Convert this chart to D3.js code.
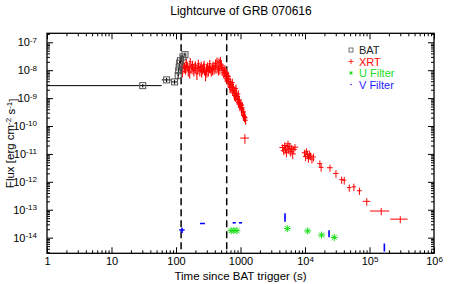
<!DOCTYPE html>
<html>
<head>
<meta charset="utf-8">
<script src="https://cdn.jsdelivr.net/npm/d3@7"></script>
<style>
body { margin: 0; background: #fff; }
svg { display: block; font-family: "Liberation Sans", Arial, sans-serif; }
</style>
</head>
<body>
<div id="chart"></div>
<script>
// rows are [time, timeErr, flux, fluxErr]
var batData = [
	[30.5, 29.5, 2.8e-9, 0.4e-9],
	[71.5, 11.5, 4.5e-9, 0.8e-9],
	[95, 12, 3.8e-9, 0.7e-9],
	[108, 2, 6.5e-9, 1.8e-9],
	[110, 1.5, 9.5e-9, 2.5e-9],
	[112, 1.5, 1.3e-8, 3e-9],
	[114, 1.5, 1.8e-8, 4e-9],
	[117, 2, 2.2e-8, 5e-9],
	[128, 4, 3.0e-8, 6e-9],
	[138, 5, 3.6e-8, 7e-9]
];

var xrtWT = [
	[124, 6, 1.5e-8, 0.55e-8], [126, 6, 0.9e-8, 0.35e-8], [128, 6, 1.2e-8, 0.45e-8],
	[132, 6, 1.7e-8, 0.6e-8], [136, 7, 1.3e-8, 0.5e-8], [140, 7, 1.1e-8, 0.4e-8],
	[143, 7, 1.25e-8, 0.45e-8], [145, 7, 1.9e-8, 0.7e-8], [150, 8, 1.4e-8, 0.5e-8],
	[155, 8, 1.0e-8, 0.4e-8], [160, 8, 1.3e-8, 0.5e-8], [163, 8, 0.85e-8, 0.35e-8],
	[166, 9, 2.0e-8, 0.75e-8], [172, 9, 1.2e-8, 0.45e-8], [178, 9, 1.4e-8, 0.5e-8],
	[181, 9, 1.6e-8, 0.6e-8], [184, 10, 1.1e-8, 0.4e-8], [190, 10, 0.95e-8, 0.35e-8],
	[197, 10, 1.3e-8, 0.5e-8], [200, 10, 1.5e-8, 0.55e-8], [204, 11, 1.2e-8, 0.45e-8],
	[211, 11, 0.75e-8, 0.3e-8], [218, 12, 1.15e-8, 0.45e-8], [222, 12, 1.7e-8, 0.65e-8],
	[226, 12, 1.35e-8, 0.5e-8], [234, 13, 1.0e-8, 0.4e-8], [242, 13, 1.25e-8, 0.45e-8],
	[246, 13, 1.45e-8, 0.55e-8], [250, 14, 0.9e-8, 0.35e-8], [259, 14, 1.1e-8, 0.4e-8],
	[268, 15, 1.3e-8, 0.5e-8], [272, 15, 1.6e-8, 0.6e-8], [277, 15, 1.05e-8, 0.4e-8],
	[287, 16, 0.7e-8, 0.3e-8], [297, 16, 1.2e-8, 0.45e-8], [302, 16, 0.9e-8, 0.35e-8],
	[307, 17, 1.4e-8, 0.5e-8], [318, 17, 1.0e-8, 0.4e-8], [329, 18, 1.25e-8, 0.45e-8],
	[334, 18, 1.7e-8, 0.6e-8], [340, 19, 1.15e-8, 0.4e-8], [352, 19, 0.95e-8, 0.35e-8],
	[364, 20, 1.3e-8, 0.5e-8], [370, 20, 1.05e-8, 0.4e-8], [377, 21, 1.5e-8, 0.55e-8],
	[390, 21, 1.1e-8, 0.4e-8], [404, 22, 1.35e-8, 0.5e-8], [410, 22, 1.75e-8, 0.65e-8],
	[418, 23, 1.2e-8, 0.45e-8], [432, 23, 2.1e-8, 0.75e-8], [447, 24, 1.3e-8, 0.5e-8],
	[455, 24, 1.05e-8, 0.4e-8], [463, 25, 1.9e-8, 0.7e-8], [479, 26, 1.15e-8, 0.45e-8],
	[488, 26, 2.2e-8, 0.75e-8], [496, 27, 1.7e-8, 0.6e-8],
	[505, 40, 1.5e-8, 0.55e-8], [520, 42, 1.0e-8, 0.38e-8], [535, 43, 1.25e-8, 0.45e-8],
	[550, 44, 8.0e-9, 3.0e-9], [565, 45, 9.5e-9, 3.5e-9], [572, 46, 1.1e-8, 0.4e-8],
	[580, 46, 6.0e-9, 2.2e-9], [596, 48, 7.5e-9, 2.8e-9], [604, 48, 8.5e-9, 3.0e-9],
	[612, 49, 5.0e-9, 1.8e-9], [628, 50, 6.2e-9, 2.2e-9], [645, 52, 3.9e-9, 1.4e-9],
	[654, 52, 6.0e-9, 2.2e-9], [662, 53, 4.8e-9, 1.7e-9], [680, 54, 3.0e-9, 1.1e-9],
	[690, 55, 2.4e-9, 0.9e-9], [698, 56, 3.8e-9, 1.4e-9], [717, 57, 2.4e-9, 0.9e-9],
	[736, 59, 3.0e-9, 1.1e-9], [746, 60, 3.6e-9, 1.3e-9], [756, 60, 1.9e-9, 0.7e-9],
	[776, 62, 2.4e-9, 0.9e-9], [797, 64, 1.5e-9, 0.55e-9], [808, 65, 1.25e-9, 0.45e-9],
	[818, 65, 1.9e-9, 0.7e-9], [840, 67, 1.15e-9, 0.42e-9], [850, 68, 2.2e-9, 0.8e-9],
	[863, 69, 1.5e-9, 0.55e-9], [886, 71, 9.0e-10, 3.3e-10], [910, 73, 1.15e-9, 0.42e-9],
	[922, 74, 1.4e-9, 0.5e-9], [934, 75, 7.0e-10, 2.6e-10], [959, 77, 8.5e-10, 3.1e-10],
	[972, 78, 6.2e-10, 2.2e-10], [985, 79, 5.2e-10, 1.9e-10], [1011, 81, 6.5e-10, 2.4e-10],
	[1038, 83, 4.0e-10, 1.5e-10], [1052, 84, 5.6e-10, 2.0e-10], [1066, 85, 4.6e-10, 1.7e-10],
	[1095, 88, 3.0e-10, 1.1e-10], [1110, 89, 2.4e-10, 0.9e-10], [1124, 90, 3.2e-10, 1.2e-10],
	[1154, 92, 2.2e-10, 0.8e-10], [1185, 95, 2.0e-10, 0.7e-10], [1200, 96, 1.6e-10, 0.5e-10]
];

var xrtPC = [
	[1170, 180, 3.7e-11, 1.4e-11],
	[4500, 500, 1.7e-11, 0.5e-11], [4700, 500, 1.3e-11, 0.4e-11], [4850, 550, 2.0e-11, 0.6e-11],
	[5000, 550, 1.5e-11, 0.45e-11], [5150, 600, 1.1e-11, 0.35e-11], [5300, 600, 1.8e-11, 0.5e-11],
	[5450, 600, 2.3e-11, 0.7e-11], [5600, 650, 1.4e-11, 0.4e-11], [5800, 650, 1.9e-11, 0.55e-11],
	[6000, 700, 1.2e-11, 0.4e-11], [6200, 700, 1.6e-11, 0.5e-11], [6450, 750, 1.0e-11, 0.35e-11],
	[6700, 750, 1.45e-11, 0.45e-11], [7000, 800, 1.75e-11, 0.5e-11],
	[9800, 900, 1.1e-11, 0.3e-11], [10200, 900, 8.0e-12, 2.5e-12], [10500, 900, 1.25e-11, 0.35e-11],
	[10900, 1000, 9.5e-12, 3.0e-12], [11300, 1000, 7.0e-12, 2.2e-12], [11700, 1100, 1.0e-11, 0.3e-11],
	[12200, 1100, 8.5e-12, 2.6e-12], [12800, 1200, 6.5e-12, 2.0e-12], [13500, 1200, 7.8e-12, 2.5e-12],
	[17000, 1500, 4.5e-12, 1.3e-12], [17800, 1500, 3.3e-12, 1.0e-12], [24400, 2500, 3.2e-12, 0.9e-12],
	[30200, 3000, 2.0e-12, 0.6e-12], [37000, 3000, 1.2e-12, 0.35e-12], [40600, 3000, 1.15e-12, 0.35e-12],
	[48600, 4000, 6.2e-13, 1.8e-13], [57300, 4500, 6.6e-13, 2.0e-13], [69800, 6000, 4.8e-13, 1.4e-13],
	[90600, 12000, 2.0e-13, 0.6e-13], [152000, 50000, 9.0e-14, 2.6e-14], [300000, 90000, 4.6e-14, 1.3e-14]
];

var uData = [
	[713, 0, 1.78e-14, 0], [790, 0, 1.8e-14, 0], [880, 0, 1.78e-14, 0],
	[5320, 0, 2.1e-14, 0], [11000, 0, 1.74e-14, 0], [18100, 0, 1.24e-14, 0], [28400, 0, 1.02e-14, 0]
];

var vData = [
	[124, 12, 1.88e-14, 0.4e-14],
	[258, 23, 3.2e-14, 0.1e-14],
	[800, 45, 3.4e-14, 0.1e-14],
	[1000, 55, 3.4e-14, 0.1e-14],
	[4900, 60, 5.6e-14, 1.9e-14],
	[23600, 300, 1.43e-14, 0.4e-14],
	[170000, 2000, 4.7e-15, 1.5e-15]
];

var trigLines = [120, 611];
var xMajors = [1, 10, 100, 1000, 1e4, 1e5, 1e6];
var yMajors = [1e-14, 1e-13, 1e-12, 1e-11, 1e-10, 1e-9, 1e-8, 1e-7];
var legendNames = ["BAT", "XRT", "U Filter", "V Filter"];
var legendColors = ["#222", "#ff0000", "#22dd22", "#2222ff"];

var W = 454, H = 284;
var L = 47, R = 434, T = 33.3, B = 253.3;

var svg = d3.select("#chart").append("svg")
	.attr("width", W)
	.attr("height", H);

var x = d3.scaleLog().domain([1, 1e6]).range([L, R]);
var y = d3.scaleLog().domain([2.75e-15, 2.1e-7]).range([B, T]);

function isMajor(v) {
	var e = Math.log10(v);
	return Math.abs(e - Math.round(e)) < 1e-6;
}
var xMinors = x.ticks().filter(function(v) { return !isMajor(v); });
var yMinors = y.ticks().filter(function(v) { return !isMajor(v); });

svg.append("defs").append("clipPath").attr("id", "plotclip")
	.append("rect")
	.attr("x", L).attr("y", T)
	.attr("width", R - L).attr("height", B - T);

var plot = svg.append("g").attr("clip-path", "url(#plotclip)");

// trigger / slew lines
plot.selectAll("line.trig").data(trigLines).enter().append("line")
	.attr("x1", function(d) { return x(d); })
	.attr("x2", function(d) { return x(d); })
	.attr("y1", T).attr("y2", B)
	.style("stroke", "#000")
	.style("stroke-width", 1.5)
	.style("stroke-dasharray", "7,4");

function drawErr(g, rows, color, width) {
	rows.forEach(function(r) {
		var t = r[0], dt = r[1], f = r[2], df = r[3];
		if (dt > 0) {
			g.append("line")
				.attr("x1", x(Math.max(t - dt, 0.5))).attr("x2", x(t + dt))
				.attr("y1", y(f)).attr("y2", y(f))
				.style("stroke", color).style("stroke-width", width);
		}
		if (df > 0) {
			g.append("line")
				.attr("x1", x(t)).attr("x2", x(t))
				.attr("y1", y(Math.max(f - df, 1e-16))).attr("y2", y(f + df))
				.style("stroke", color).style("stroke-width", width);
		}
	});
}

drawErr(plot, xrtWT, "#ff0000", 1.1);
drawErr(plot, xrtPC, "#ff0000", 1);

// V filter
drawErr(plot, vData, "#0000ff", 1.6);

// U filter asterisks
function asterisk(g, cx, cy, r, color) {
	var d = r * 0.707;
	var segs = [[-r, 0, r, 0], [0, -r, 0, r], [-d, -d, d, d], [-d, d, d, -d]];
	segs.forEach(function(s) {
		g.append("line")
			.attr("x1", cx + s[0]).attr("y1", cy + s[1])
			.attr("x2", cx + s[2]).attr("y2", cy + s[3])
			.style("stroke", color).style("stroke-width", 1);
	});
}
uData.forEach(function(r) {
	asterisk(plot, x(r[0]), y(r[2]), 3.5, "#11dd11");
});

// BAT
drawErr(plot, batData, "#000", 1);
plot.selectAll("rect.bat").data(batData).enter().append("rect")
	.attr("x", function(d) { return x(d[0]) - 3; })
	.attr("y", function(d) { return y(d[2]) - 3; })
	.attr("width", 6).attr("height", 6)
	.style("fill", "none")
	.style("stroke", "#555")
	.style("stroke-width", 1);

// axes
function supLabel(sel, plainBelow) {
	sel.selectAll(".tick text").each(function(d) {
		var t = d3.select(this);
		var e = Math.round(Math.log10(d));
		t.text(null);
		if (e < plainBelow && e >= 0) {
			t.text(String(d));
		} else {
			t.append("tspan").text("10");
			t.append("tspan").attr("dy", "-0.45em").attr("font-size", "8px").text(e);
		}
	});
}

function styleAxis(g) {
	g.select(".domain").remove();
	g.selectAll(".tick line").style("stroke", "#000").style("stroke-width", 1);
	g.attr("font-family", "'Liberation Sans', Arial, sans-serif").attr("font-size", 11);
}

var gxb = svg.append("g").attr("transform", "translate(0," + B + ")")
	.call(d3.axisBottom(x).tickValues(xMajors).tickSize(-6).tickPadding(4));
supLabel(gxb, 4);
styleAxis(gxb);
var gxbm = svg.append("g").attr("transform", "translate(0," + B + ")")
	.call(d3.axisBottom(x).tickValues(xMinors).tickSize(-3).tickFormat(""));
styleAxis(gxbm);
var gxt = svg.append("g").attr("transform", "translate(0," + T + ")")
	.call(d3.axisTop(x).tickValues(xMajors).tickSize(-6).tickFormat(""));
styleAxis(gxt);
var gxtm = svg.append("g").attr("transform", "translate(0," + T + ")")
	.call(d3.axisTop(x).tickValues(xMinors).tickSize(-3).tickFormat(""));
styleAxis(gxtm);

var gyl = svg.append("g").attr("transform", "translate(" + L + ",0)")
	.call(d3.axisLeft(y).tickValues(yMajors).tickSize(-6).tickPadding(10));
supLabel(gyl, -100);
styleAxis(gyl);
var gylm = svg.append("g").attr("transform", "translate(" + L + ",0)")
	.call(d3.axisLeft(y).tickValues(yMinors).tickSize(-3).tickFormat(""));
styleAxis(gylm);
var gyr = svg.append("g").attr("transform", "translate(" + R + ",0)")
	.call(d3.axisRight(y).tickValues(yMajors).tickSize(-6).tickFormat(""));
styleAxis(gyr);
var gyrm = svg.append("g").attr("transform", "translate(" + R + ",0)")
	.call(d3.axisRight(y).tickValues(yMinors).tickSize(-3).tickFormat(""));
styleAxis(gyrm);

svg.append("rect")
	.attr("x", L).attr("y", T)
	.attr("width", R - L).attr("height", B - T)
	.style("fill", "none")
	.style("stroke", "#000")
	.style("stroke-width", 1.3);

// titles
svg.append("text")
	.attr("x", 241).attr("y", 15)
	.attr("text-anchor", "middle")
	.attr("font-size", "12px")
	.text("Lightcurve of GRB 070616");

svg.append("text")
	.attr("x", (L + R) / 2).attr("y", 280)
	.attr("text-anchor", "middle")
	.attr("font-size", "11.5px")
	.text("Time since BAT trigger (s)");

var ylab = svg.append("text")
	.attr("transform", "translate(14," + ((T + B) / 2) + ") rotate(-90)")
	.attr("text-anchor", "middle")
	.attr("font-size", "11.5px");
ylab.append("tspan").text("Flux [erg cm");
ylab.append("tspan").attr("dy", "-0.4em").attr("font-size", "8px").text("-2");
ylab.append("tspan").attr("dy", "0.4em").text(" s");
ylab.append("tspan").attr("dy", "-0.4em").attr("font-size", "8px").text("-1");
ylab.append("tspan").attr("dy", "0.4em").text("]");

// legend
var leg = svg.append("g");
legendNames.forEach(function(name, i) {
	var ly = 50 + i * 11.5;
	var c = legendColors[i];
	if (i == 0) {
		leg.append("rect").attr("x", 349).attr("y", ly - 2).attr("width", 4).attr("height", 4)
			.style("fill", "none").style("stroke", "#555").style("stroke-width", 0.8);
	} else if (i == 1) {
		leg.append("line").attr("x1", 348.5).attr("x2", 353.5).attr("y1", ly).attr("y2", ly)
			.style("stroke", c).style("stroke-width", 0.8);
		leg.append("line").attr("x1", 351).attr("x2", 351).attr("y1", ly - 2.5).attr("y2", ly + 2.5)
			.style("stroke", c).style("stroke-width", 0.8);
	} else if (i == 2) {
		asterisk(leg, 351, ly, 1.8, c);
	} else {
		leg.append("circle").attr("cx", 351).attr("cy", ly).attr("r", 0.8).style("fill", c);
	}
	leg.append("text")
		.attr("x", 359).attr("y", ly + 4)
		.attr("font-size", "11px")
		.style("fill", c)
		.text(name);
});
</script>
</body>
</html>
